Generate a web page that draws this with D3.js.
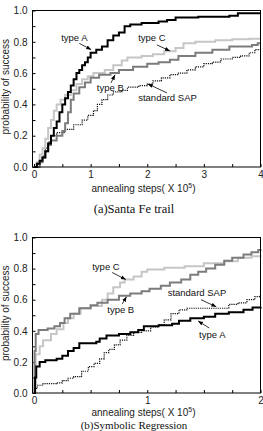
<!DOCTYPE html>
<html>
<head>
<meta charset="utf-8">
<script src="https://cdnjs.cloudflare.com/ajax/libs/d3/7.8.5/d3.min.js"></script>
<style>
  body { margin: 0; background: #fff; }
  svg text { font-family: "Liberation Sans", Arial, sans-serif; }
  svg text.caption { font-family: "Liberation Serif", "Times New Roman", serif; }
</style>
</head>
<body>
<div id="chart"></div>
<script>
// ---- data ----
// (a) Santa Fe trail, x in 10^5 annealing steps
const sfTypeA = [[0,0],[0.05,0.02],[0.1,0.04],[0.15,0.06],[0.2,0.1],[0.25,0.15],[0.3,0.2],[0.35,0.25],[0.4,0.29],[0.45,0.35],[0.5,0.4],[0.55,0.44],[0.6,0.48],[0.65,0.52],[0.7,0.56],[0.75,0.6],[0.8,0.62],[0.85,0.65],[0.9,0.67],[0.95,0.7],[1.0,0.73],[1.1,0.75],[1.2,0.77],[1.3,0.81],[1.4,0.84],[1.5,0.86],[1.6,0.9],[1.7,0.91],[1.9,0.92],[2.2,0.93],[2.35,0.94],[2.5,0.955],[2.9,0.96],[3.45,0.966],[3.6,0.983],[4,0.983]];
const sfTypeB = [[0,0],[0.1,0.03],[0.15,0.06],[0.2,0.1],[0.25,0.14],[0.3,0.17],[0.4,0.2],[0.5,0.23],[0.55,0.28],[0.6,0.35],[0.65,0.43],[0.7,0.47],[0.8,0.51],[0.9,0.54],[1.0,0.57],[1.15,0.59],[1.35,0.6],[1.5,0.62],[1.75,0.64],[2.0,0.66],[2.2,0.67],[2.4,0.685],[2.55,0.71],[2.85,0.73],[3.15,0.75],[3.45,0.77],[3.85,0.78],[3.95,0.79],[4,0.79]];
const sfTypeC = [[0,0],[0.05,0.03],[0.1,0.08],[0.15,0.12],[0.2,0.18],[0.25,0.25],[0.3,0.3],[0.35,0.36],[0.4,0.4],[0.47,0.43],[0.55,0.46],[0.65,0.49],[0.75,0.53],[0.85,0.56],[0.95,0.58],[1.05,0.6],[1.25,0.62],[1.4,0.65],[1.55,0.68],[1.65,0.7],[1.9,0.71],[2.1,0.72],[2.3,0.74],[2.5,0.76],[2.64,0.79],[2.85,0.8],[3.2,0.81],[3.5,0.817],[3.8,0.82],[4,0.82]];
const sfSAP = [[0,0],[0.1,0.03],[0.15,0.07],[0.2,0.12],[0.25,0.16],[0.3,0.2],[0.4,0.22],[0.55,0.24],[0.7,0.27],[0.85,0.3],[0.95,0.33],[1.05,0.36],[1.12,0.4],[1.2,0.43],[1.3,0.46],[1.4,0.48],[1.55,0.49],[1.65,0.51],[1.85,0.52],[2.0,0.53],[2.1,0.55],[2.25,0.57],[2.4,0.59],[2.55,0.6],[2.7,0.62],[2.85,0.64],[3.0,0.66],[3.15,0.67],[3.3,0.69],[3.5,0.7],[3.65,0.71],[3.8,0.73],[3.9,0.75],[4,0.76]];

// (b) Symbolic Regression
const srTypeA = [[0,0],[0.01,0.1],[0.02,0.17],[0.05,0.2],[0.1,0.21],[0.2,0.22],[0.25,0.24],[0.3,0.27],[0.35,0.29],[0.4,0.32],[0.55,0.33],[0.58,0.35],[0.64,0.37],[0.75,0.38],[0.85,0.39],[0.92,0.405],[0.97,0.43],[1.1,0.435],[1.22,0.445],[1.28,0.465],[1.38,0.48],[1.5,0.49],[1.6,0.51],[1.72,0.52],[1.85,0.535],[1.93,0.55],[2,0.555]];
const srTypeB = [[0,0],[0.005,0.27],[0.015,0.38],[0.04,0.405],[0.12,0.415],[0.18,0.43],[0.23,0.45],[0.27,0.48],[0.32,0.51],[0.4,0.545],[0.5,0.565],[0.56,0.58],[0.65,0.6],[0.75,0.625],[0.85,0.64],[0.95,0.655],[1.02,0.67],[1.12,0.69],[1.2,0.71],[1.3,0.73],[1.38,0.76],[1.45,0.78],[1.52,0.8],[1.6,0.825],[1.68,0.85],[1.75,0.87],[1.85,0.89],[1.92,0.905],[1.98,0.92],[2,0.925]];
const srTypeC = [[0,0],[0.005,0.06],[0.015,0.25],[0.05,0.3],[0.08,0.34],[0.15,0.38],[0.2,0.41],[0.26,0.45],[0.3,0.48],[0.35,0.51],[0.41,0.545],[0.5,0.56],[0.6,0.6],[0.65,0.64],[0.7,0.68],[0.76,0.71],[0.8,0.73],[0.88,0.75],[0.95,0.78],[1.0,0.795],[1.15,0.805],[1.33,0.815],[1.5,0.835],[1.68,0.848],[1.8,0.87],[1.92,0.88],[2,0.885]];
const srSAP = [[0,0],[0.01,0.03],[0.03,0.05],[0.08,0.06],[0.2,0.065],[0.25,0.08],[0.3,0.095],[0.35,0.105],[0.42,0.14],[0.48,0.17],[0.53,0.19],[0.58,0.22],[0.62,0.26],[0.66,0.28],[0.71,0.31],[0.76,0.34],[0.82,0.37],[0.88,0.39],[0.95,0.4],[1.03,0.425],[1.1,0.44],[1.15,0.47],[1.21,0.51],[1.28,0.535],[1.35,0.545],[1.68,0.545],[1.72,0.57],[1.8,0.58],[1.88,0.6],[1.95,0.62],[2,0.63]];

// ticks
const yTicks = d3.range(0, 11).map(i => i / 10);
const sfXTicks = d3.range(0, 9).map(i => i / 2);
const srXTicks = d3.range(0, 9).map(i => i / 4);

// annotation texts + arrows (data units): [label, textX, textY, fromX, fromY, toX, toY]
const sfNotes = [
  ["type A", 0.48, 0.803, 0.80, 0.79, 1.01, 0.75],
  ["type C", 1.84, 0.803, 2.17, 0.78, 2.40, 0.742],
  ["type B", 1.11, 0.483, 1.36, 0.537, 1.43, 0.589],
  ["standard SAP", 1.84, 0.419, 2.35, 0.473, 2.01, 0.531]
];
const srNotes = [
  ["type C", 0.514, 0.788, 0.69, 0.775, 0.81, 0.73],
  ["type B", 0.647, 0.512, 0.78, 0.573, 0.817, 0.619],
  ["standard SAP", 1.18, 0.622, 1.475, 0.60, 1.61, 0.554],
  ["type A", 1.458, 0.356, 1.547, 0.418, 1.449, 0.463]
];

const W = 263, H = 431;
const svg = d3.select("#chart").append("svg")
  .attr("width", W).attr("height", H);

svg.append("defs").append("marker")
  .attr("id", "arr")
  .attr("viewBox", "0 0 10 10")
  .attr("refX", 10).attr("refY", 5)
  .attr("markerWidth", 5).attr("markerHeight", 5)
  .attr("markerUnits", "userSpaceOnUse")
  .attr("orient", "auto")
  .append("path").attr("d", "M0,1 L10,5 L0,9 Z").attr("fill", "#000");

function panel(opt) {
  const left = 32.5, right = 260.5;
  const x = d3.scaleLinear().domain([0, opt.xmax]).range([34, right]);
  const y = d3.scaleLinear().domain([0, 1]).range([opt.bottom, opt.top]);
  const g = svg.append("g");

  // axes (inward ticks)
  const ya = g.append("g").attr("transform", `translate(${left},0)`)
    .call(d3.axisLeft(y).tickValues(yTicks).tickSize(-3).tickPadding(5)
      .tickFormat(d => Math.round(d * 10) % 2 === 0 ? d3.format(".1f")(d) : ""));
  const xa = g.append("g").attr("transform", `translate(0,${opt.bottom})`)
    .call(d3.axisBottom(x).tickValues(opt.xTicks).tickSize(-3).tickPadding(4)
      .tickFormat(d => Number.isInteger(d) ? d : ""));
  [ya, xa].forEach(a => {
    a.select(".domain").remove();
    a.attr("font-family", null);
    a.selectAll("text").attr("font-size", 10).attr("fill", "#222");
  });

  const line = d3.line().x(d => x(d[0])).y(d => y(d[1])).curve(d3.curveStepAfter);
  const series = [
    { d: opt.sap, c: "#111", w: 1.2, dash: "1.2,1" },
    { d: opt.c, c: "#c6c6c6", w: 2 },
    { d: opt.b, c: "#7c7c7c", w: 2 },
    { d: opt.a, c: "#000", w: 2 }
  ];
  series.forEach(s => {
    g.append("path").datum(s.d).attr("d", line)
      .attr("fill", "none").attr("stroke", s.c).attr("stroke-width", s.w)
      .attr("stroke-dasharray", s.dash || null);
  });

  // frame
  g.append("rect").attr("x", left).attr("y", opt.top)
    .attr("width", right - left).attr("height", opt.bottom - opt.top)
    .attr("fill", "none").attr("stroke", "#000").attr("stroke-width", 1);

  // annotations
  opt.notes.forEach(n => {
    g.append("text").attr("x", x(n[1])).attr("y", y(n[2]))
      .attr("font-size", 9.5).attr("fill", "#111").text(n[0]);
    g.append("line")
      .attr("x1", x(n[3])).attr("y1", y(n[4]))
      .attr("x2", x(n[5])).attr("y2", y(n[6]))
      .attr("stroke", "#000").attr("stroke-width", 0.8)
      .attr("marker-end", "url(#arr)");
  });

  // axis titles
  g.append("text")
    .attr("transform", `translate(9,${(opt.top + opt.bottom) / 2 - 2}) rotate(-90)`)
    .attr("text-anchor", "middle").attr("font-size", 10).attr("fill", "#222")
    .text("probability of success");
  const xt = g.append("text").attr("x", 143.5).attr("y", opt.bottom + opt.titleGap)
    .attr("text-anchor", "middle").attr("font-size", 10).attr("fill", "#222");
  xt.append("tspan").text("annealing steps( X 10");
  xt.append("tspan").attr("dy", -4).attr("font-size", 7).text("5");
  xt.append("tspan").attr("dy", 4).text(")");

  svg.append("text").attr("class", "caption")
    .attr("x", 134).attr("y", opt.captionY)
    .attr("text-anchor", "middle").attr("font-size", opt.captionSize)
    .attr("fill", "#111").text(opt.caption);
}

panel({ top: 10.5, bottom: 167, xmax: 4, xTicks: sfXTicks, titleGap: 24.5,
  a: sfTypeA, b: sfTypeB, c: sfTypeC, sap: sfSAP, notes: sfNotes,
  caption: "(a)Santa Fe trail", captionY: 213, captionSize: 12.5 });
panel({ top: 237.5, bottom: 393, xmax: 2, xTicks: srXTicks, titleGap: 23,
  a: srTypeA, b: srTypeB, c: srTypeC, sap: srSAP, notes: srNotes,
  caption: "(b)Symbolic Regression", captionY: 428.5, captionSize: 11 });
</script>
</body>
</html>
